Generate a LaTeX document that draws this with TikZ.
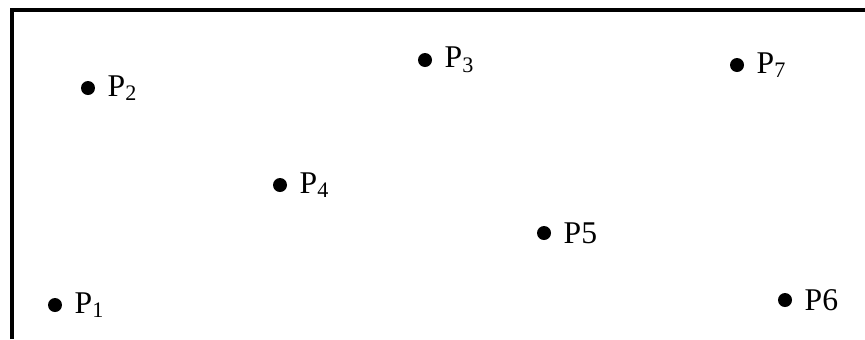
\documentclass[tikz,border=0pt]{standalone}
\usepackage{fontspec}
\setmainfont{Liberation Serif}
\usetikzlibrary{positioning}

\begin{document}
\begin{tikzpicture}[x=0.02cm, y=-0.02cm,
    frame/.style={line width=2pt},
    pt/.style={circle, fill=black, inner sep=0pt, minimum size=0.28cm},
    ptname/.style={inner sep=0pt, right=0.24cm of #1, font=\fontsize{18}{20}\selectfont}]
            \useasboundingbox (0,0) rectangle (865,339);
            % frame, open at the right and at the bottom
            \draw[frame] (12,339) -- (12,10) -- (865,10);

            \node[pt] (p1) at (55,305) {};
            \node[pt] (p2) at (88,88) {};
            \node[pt] (p3) at (425,60) {};
            \node[pt] (p4) at (280,185) {};
            \node[pt] (p5) at (544,233) {};
            \node[pt] (p6) at (785,300) {};
            \node[pt] (p7) at (737,65) {};

            \node[ptname=p1] (l1) {P\textsubscript{1}};
            \node[ptname=p2] (l2) {P\textsubscript{2}};
            \node[ptname=p3] (l3) {P\textsubscript{3}};
            \node[ptname=p4] (l4) {P\textsubscript{4}};
            \node[ptname=p5] (l5) {P5};
            \node[ptname=p6] (l6) {P6};
            \node[ptname=p7] (l7) {P\textsubscript{7}};
        \end{tikzpicture}
\end{document}
